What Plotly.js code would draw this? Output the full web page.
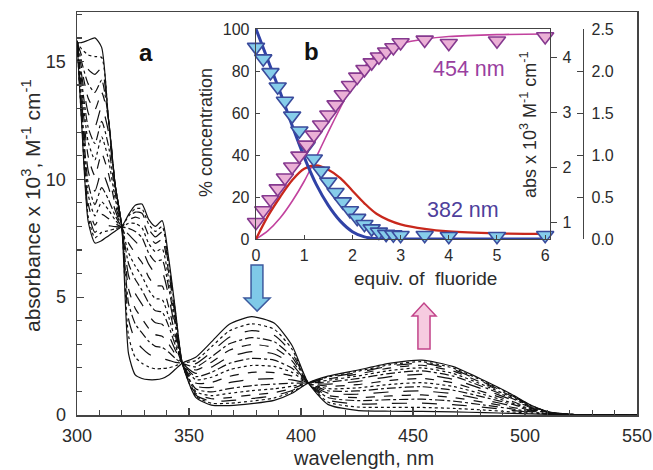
<!DOCTYPE html>
<html>
<head>
<meta charset="utf-8">
<script src="https://cdn.plot.ly/plotly-3.0.1.min.js"></script>
<style>html,body{margin:0;padding:0;background:#fff;}#chart{width:653px;height:470px;}</style>
</head>
<body>
<div id="chart"></div>
<script>
// ---- main panel (a): absorption spectra during titration ----
const wavelength = [300,302,305,308,311,314,317,320,323,326,329,332,335,338,341,344,347,353,360,368,378,388,396,403,412,425,440,454,468,482,494,503,511,520,535,550];

const spec00 = [15.8,15.8,15.9,16.0,15.6,12.6,9.8,8.0,2.6,1.7,1.55,1.5,1.5,1.55,1.7,1.95,2.2,2.45,3.1,3.85,4.17,3.9,2.95,1.4,0.45,0.2,0.16,0.15,0.13,0.1,0.07,0.05,0.03,0.01,0,0];
const spec01 = [15.85,15.54,15.28,15.21,15.17,12.6,9.8,8.0,3.36,2.45,2.2,2.04,1.96,1.97,2.0,2.09,2.2,2.31,2.89,3.57,3.87,3.64,2.79,1.4,0.55,0.34,0.32,0.32,0.28,0.21,0.13,0.08,0.04,0.01,0,0];
const spec02 = [15.85,15.27,14.67,14.45,14.72,12.6,9.8,8.0,4.08,3.17,2.84,2.59,2.43,2.4,2.32,2.23,2.2,2.18,2.67,3.3,3.58,3.38,2.63,1.39,0.64,0.47,0.49,0.5,0.44,0.32,0.2,0.11,0.04,0.01,0,0];
const spec03 = [15.85,15.01,14.05,13.69,14.21,12.6,9.8,8.0,4.75,3.87,3.48,3.13,2.91,2.87,2.66,2.39,2.2,2.04,2.46,3.02,3.28,3.11,2.46,1.39,0.74,0.61,0.65,0.67,0.59,0.42,0.26,0.13,0.05,0.01,0,0];
const spec04 = [15.85,14.74,13.44,12.96,13.68,12.6,9.8,8.0,5.36,4.52,4.09,3.68,3.41,3.34,3.01,2.56,2.2,1.91,2.24,2.75,2.99,2.85,2.3,1.38,0.83,0.74,0.81,0.85,0.74,0.53,0.33,0.16,0.06,0.02,0,0];
const spec05 = [15.85,14.48,12.82,12.23,13.09,12.04,9.72,8.0,5.92,5.16,4.7,4.22,3.91,3.85,3.37,2.74,2.2,1.77,2.03,2.47,2.69,2.59,2.14,1.38,0.93,0.88,0.98,1.02,0.9,0.64,0.39,0.19,0.07,0.02,0,0];
const spec06 = [15.85,14.22,12.2,11.52,12.46,11.45,9.46,8.0,6.43,5.76,5.3,4.76,4.42,4.37,3.75,2.93,2.2,1.63,1.81,2.19,2.4,2.33,1.98,1.38,1.03,1.02,1.14,1.2,1.05,0.75,0.46,0.22,0.07,0.02,0,0];
const spec07 = [15.85,13.95,11.59,10.83,11.8,10.86,9.21,8.0,6.89,6.32,5.89,5.31,4.94,4.9,4.14,3.12,2.2,1.5,1.6,1.92,2.1,2.06,1.81,1.37,1.12,1.15,1.3,1.37,1.21,0.86,0.52,0.25,0.08,0.02,0,0];
const spec08 = [15.85,13.69,10.97,10.15,11.09,10.26,8.95,8.0,7.3,6.86,6.47,5.85,5.48,5.47,4.56,3.34,2.2,1.36,1.38,1.64,1.81,1.8,1.65,1.37,1.22,1.29,1.47,1.55,1.36,0.96,0.59,0.27,0.09,0.02,0,0];
const spec09 = [15.85,13.42,10.36,9.5,10.35,9.67,8.7,8.0,7.66,7.37,7.04,6.4,6.02,6.05,4.99,3.55,2.2,1.23,1.17,1.37,1.51,1.54,1.49,1.36,1.31,1.42,1.63,1.72,1.51,1.07,0.65,0.3,0.09,0.02,0,0];
const spec10 = [15.85,13.19,9.82,8.93,9.65,9.15,8.47,8.0,7.92,7.79,7.53,6.87,6.51,6.58,5.37,3.76,2.2,1.11,0.98,1.12,1.25,1.31,1.35,1.36,1.4,1.54,1.77,1.87,1.65,1.17,0.71,0.33,0.1,0.03,0,0];
const spec11 = [15.85,12.99,9.35,8.45,9.04,8.71,8.28,8.0,8.13,8.13,7.94,7.28,6.93,7.05,5.72,3.93,2.2,1.0,0.82,0.92,1.03,1.11,1.22,1.36,1.47,1.65,1.89,2.0,1.76,1.25,0.76,0.35,0.11,0.03,0,0];
const spec12 = [15.85,12.83,8.97,8.06,8.51,8.34,8.12,8.0,8.27,8.4,8.28,7.62,7.28,7.44,6.0,4.09,2.2,0.92,0.69,0.74,0.85,0.95,1.12,1.36,1.53,1.73,2.0,2.11,1.86,1.32,0.8,0.37,0.11,0.03,0,0];
const spec13 = [15.85,12.7,8.66,7.75,8.07,8.04,7.99,8.0,8.38,8.61,8.56,7.89,7.56,7.76,6.24,4.2,2.2,0.85,0.58,0.61,0.7,0.82,1.04,1.35,1.58,1.8,2.08,2.2,1.93,1.37,0.83,0.38,0.11,0.03,0,0];
const spec14 = [15.85,12.6,8.43,7.52,7.75,7.82,7.9,8.0,8.44,8.75,8.75,8.1,7.79,8.0,6.41,4.31,2.2,0.8,0.5,0.5,0.59,0.72,0.98,1.35,1.61,1.85,2.14,2.26,1.99,1.41,0.86,0.39,0.12,0.03,0,0];
const spec15 = [15.9,12.5,8.2,7.3,7.4,7.6,7.8,8.0,8.5,8.9,8.95,8.3,8.0,8.25,6.6,4.4,2.2,0.75,0.42,0.4,0.48,0.62,0.92,1.35,1.65,1.9,2.2,2.33,2.05,1.45,0.88,0.4,0.12,0.03,0,0];
const spectra = [spec00,spec01,spec02,spec03,spec04,spec05,spec06,spec07,spec08,spec09,spec10,spec11,spec12,spec13,spec14,spec15];

// ---- inset (b): titration ----
const equivPts = [0,0.15,0.3,0.45,0.6,0.75,0.9,1.05,1.2,1.35,1.5,1.65,1.8,1.95,2.1,2.25,2.4,2.55,2.7,2.85,3.0,3.5,4,5,6];
const abs382 = [4.18,3.97,3.72,3.46,3.2,2.93,2.66,2.38,2.15,1.93,1.73,1.54,1.37,1.21,1.07,0.96,0.88,0.82,0.78,0.77,0.76,0.76,0.74,0.74,0.76];
const abs454 = [0.2,0.34,0.47,0.6,0.73,0.86,0.99,1.12,1.24,1.36,1.48,1.6,1.72,1.83,1.93,2.02,2.1,2.17,2.23,2.28,2.34,2.37,2.33,2.36,2.41];
const equivLine = [0,0.25,0.5,0.75,1.0,1.25,1.5,1.75,2.0,2.25,2.5,2.75,3.0,3.5,4,5,6];
const pctStart = [100,85,70,54,39,26,16,8.5,3.5,1,0.2,0,0,0,0,0,0];
const pctInter = [0,11,20,28,33.5,35,33,29,23,17,12,9,7,4.8,3.6,2.7,2.4];
const pctFinal = [0,4,10,18,27.5,39,51,62.5,73.5,82,87.8,91,93,95.2,96.4,97.3,97.6];

const dashes = ['solid','dot','longdash','dashdot','dash','longdash','dashdot','dot','dash','longdash','dashdot','dot','dash','longdash','dot','solid'];

const FONT = 'Liberation Sans, Arial, sans-serif';
const TXT = '#2b2b2b';
const AX = '#444';

const traces = [];
spectra.forEach((s, i) => {
  traces.push({
    x: wavelength, y: s, type: 'scatter', mode: 'lines',
    line: {color: '#111', width: 1.2, dash: dashes[i], shape: 'spline', smoothing: 0.6},
    xaxis: 'x', yaxis: 'y', hoverinfo: 'skip', showlegend: false
  });
});
traces.push({x: equivPts, y: abs382, type: 'scatter', mode: 'markers', xaxis: 'x2', yaxis: 'y3', cliponaxis: false,
  marker: {symbol: 'triangle-down', size: 15, color: '#86cdea', line: {color: '#3a4b9c', width: 1.6}}, showlegend: false});
traces.push({x: equivPts, y: abs454, type: 'scatter', mode: 'markers', xaxis: 'x2', yaxis: 'y4', cliponaxis: false,
  marker: {symbol: 'triangle-down', size: 15, color: '#ebb0d6', line: {color: '#85398f', width: 1.6}}, showlegend: false});
traces.push({x: equivLine, y: pctFinal, type: 'scatter', mode: 'lines', xaxis: 'x2', yaxis: 'y2',
  line: {color: '#c2429e', width: 1.6, shape: 'spline'}, showlegend: false});
traces.push({x: equivLine, y: pctInter, type: 'scatter', mode: 'lines', xaxis: 'x2', yaxis: 'y2',
  line: {color: '#c8281c', width: 2.3, shape: 'spline'}, showlegend: false});
traces.push({x: equivLine, y: pctStart, type: 'scatter', mode: 'lines', xaxis: 'x2', yaxis: 'y2',
  line: {color: '#3042a6', width: 3, shape: 'spline'}, showlegend: false});

// pixel helpers for annotations (paper coords)
const L = 77, R = 637, T = 12, B = 415;
const px = v => (v - L) / (R - L);
const py = v => (B - v) / (B - T);

const tickFontMain = {family: FONT, size: 18, color: TXT};
const tickFontIn = {family: FONT, size: 16, color: TXT};

function ann(x, y, text, size, color, angle) {
  return {xref: 'paper', yref: 'paper', x: px(x), y: py(y), xanchor: 'center', yanchor: 'middle',
    showarrow: false, text: text, textangle: angle || 0, font: {family: FONT, size: size, color: color}};
}

const layout = {
  width: 653, height: 470,
  margin: {l: 77, r: 16, t: 12, b: 55, pad: 0},
  paper_bgcolor: '#fff', plot_bgcolor: 'rgba(0,0,0,0)',
  font: {family: FONT, color: TXT},
  showlegend: false,
  xaxis: {
    domain: [0, 1], range: [300, 550], dtick: 50, ticks: 'inside', ticklen: 7, tickwidth: 1.3, tickcolor: AX,
    minor: {ticks: 'inside', dtick: 10, ticklen: 5, tickwidth: 1.2, tickcolor: AX},
    showline: true, linecolor: AX, linewidth: 1.5, mirror: true, showgrid: false, zeroline: false,
    tickfont: tickFontMain, ticklabelstandoff: 4
  },
  yaxis: {
    domain: [0, 1], range: [0, 17.1], dtick: 5, ticks: 'inside', ticklen: 7, tickwidth: 1.3, tickcolor: AX,
    minor: {ticks: 'inside', dtick: 1, ticklen: 5, tickwidth: 1.2, tickcolor: AX},
    showline: true, linecolor: AX, linewidth: 1.5, mirror: true, showgrid: false, zeroline: false,
    tickfont: tickFontMain, ticklabelstandoff: 6
  },
  xaxis2: {
    domain: [px(256), px(550)], anchor: 'y2', range: [0, 6.1], dtick: 1, ticks: 'inside', ticklen: 4, tickcolor: AX,
    showline: true, linecolor: AX, linewidth: 1.3, mirror: true, showgrid: false, zeroline: false,
    tickfont: tickFontIn, ticklabelstandoff: 1
  },
  yaxis2: {
    domain: [py(239), py(29)], anchor: 'x2', range: [0, 100], dtick: 20, ticks: 'inside', ticklen: 4, tickcolor: AX,
    showline: true, linecolor: AX, linewidth: 1.3, showgrid: false, zeroline: false,
    tickfont: tickFontIn, ticklabelstandoff: 2
  },
  yaxis3: {
    overlaying: 'y2', anchor: 'x2', side: 'right', range: [0.691, 4.509], tickvals: [1, 2, 3, 4],
    ticks: 'outside', ticklen: 6, tickcolor: AX, showline: true, linecolor: AX, linewidth: 1.3,
    showgrid: false, zeroline: false, tickfont: tickFontIn, ticklabelstandoff: 2
  },
  yaxis4: {
    overlaying: 'y2', anchor: 'free', position: px(583), side: 'right', range: [0, 2.5], dtick: 0.5, tickformat: '.1f',
    ticks: 'inside', ticklen: 6, tickcolor: AX, showline: true, linecolor: AX, linewidth: 1.3,
    showgrid: false, zeroline: false, tickfont: tickFontIn, ticklabelstandoff: 4
  },
  shapes: [
    {type: 'path', xref: 'x', yref: 'y',
     path: 'M 377.7 6.36 L 383.0 6.36 L 383.0 4.96 L 386.2 4.96 L 380.4 4.41 L 374.6 4.96 L 377.7 4.96 Z',
     fillcolor: '#7fc9e8', line: {color: '#3d5a9e', width: 1.5}},
    {type: 'path', xref: 'x', yref: 'y',
     path: 'M 452.2 2.80 L 457.6 2.80 L 457.6 4.20 L 460.3 4.20 L 454.9 4.75 L 449.6 4.20 L 452.2 4.20 Z',
     fillcolor: '#f6cbe0', line: {color: '#c2448a', width: 1.5}}
  ],
  annotations: [
    ann(31, 206, 'absorbance x 10<sup>3</sup>, M<sup>-1</sup> cm<sup>-1</sup>', 21, TXT, -90),
    ann(363, 458, 'wavelength, nm', 20, TXT),
    ann(146, 53, '<b>a</b>', 24, '#111'),
    ann(311, 51, '<b>b</b>', 24, '#111'),
    ann(206, 133, '% concentration', 18, TXT, -90),
    ann(529, 125, 'abs x 10<sup>3</sup>&nbsp;M<sup>-1</sup>&nbsp;cm<sup>-1</sup>', 18, TXT, -90),
    ann(425, 278, 'equiv. of&nbsp; fluoride', 19, TXT),
    ann(469, 69, '454 nm', 21.5, '#9a3f9f'),
    ann(463, 210, '382 nm', 21.5, '#4e3f9c')
  ]
};

Plotly.newPlot('chart', traces, layout, {staticPlot: true, displayModeBar: false});
</script>
</body>
</html>
